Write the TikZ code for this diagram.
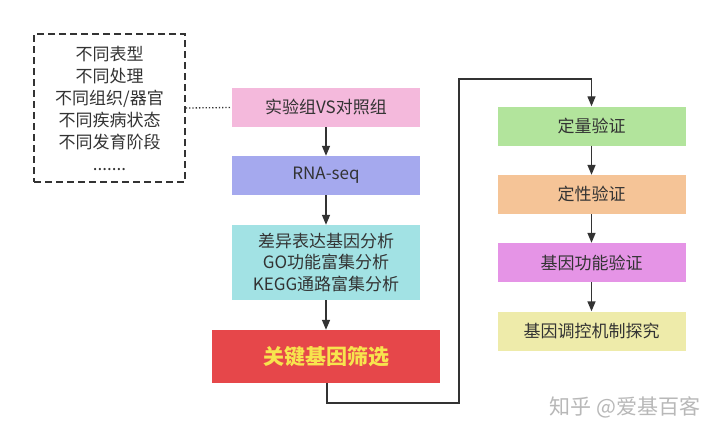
\documentclass[tikz,border=0pt]{standalone}
\usepackage{fontspec}
\setmainfont{Noto Sans CJK SC}
\usetikzlibrary{arrows.meta}
\definecolor{txt}{HTML}{333333}
\definecolor{cpink}{HTML}{F4B9DC}
\definecolor{cblue}{HTML}{A5A9EE}
\definecolor{ccyan}{HTML}{A2E2E4}
\definecolor{cred}{HTML}{E6474A}
\definecolor{cyel}{HTML}{F7E44E}
\definecolor{cgreen}{HTML}{B2E49C}
\definecolor{corange}{HTML}{F5C497}
\definecolor{cmag}{HTML}{E594E6}
\definecolor{clight}{HTML}{EEEBAA}
\begin{document}
\begin{tikzpicture}[x=1pt,y=-1pt,
  box/.style={draw=none,minimum width=188pt,minimum height=39pt,inner sep=0pt,
    font=\fontsize{17}{21.5}\selectfont,text=txt,align=center},
  flow/.style={-{Triangle[length=10pt,width=8pt]},line width=1.5pt,draw=txt},
  link/.style={line width=1.3pt,draw=txt}]
\useasboundingbox[fill=white] (0,0) rectangle (720,437);
% dashed box
\node[draw=txt,dashed,line width=1.6pt,dash pattern=on 7pt off 4pt,minimum width=151pt,minimum height=148pt,
  inner sep=0pt,align=center,font=\fontsize{17}{22}\selectfont,text=txt] (cond) at (109.5,108)
  {不同表型\\不同处理\\不同组织/器官\\不同疾病状态\\不同发育阶段\\.......};
% left column
\node[box,fill=cpink] (exp) at (326,107.5) {实验组VS对照组};
\node[box,fill=cblue] (rna) at (326,175.5) {RNA-seq};
\node[box,fill=ccyan,minimum height=75pt] (ana) at (326,262.5) {差异表达基因分析\\GO功能富集分析\\KEGG通路富集分析};
\node[box,fill=cred,minimum width=228pt,minimum height=53pt,text=cyel,
  font=\fontsize{21}{24}\selectfont\bfseries] (key) at (326,356.5) {关键基因筛选};
% right column
\node[box,fill=cgreen] (q1) at (591.5,126) {定量验证};
\node[box,fill=corange] (q2) at (591.5,194.5) {定性验证};
\node[box,fill=cmag] (q3) at (591.5,262.5) {基因功能验证};
\node[box,fill=clight] (q4) at (591.5,331) {基因调控机制探究};
% connectors
\draw[dotted,line width=1.3pt,draw=txt] (cond.east) -- (exp.west);
\draw[flow] (exp) -- (rna);
\draw[flow] (rna) -- (ana);
\draw[flow] (ana) -- (key);
\coordinate (c1) at (327,403);
\coordinate (c2) at (459,403);
\coordinate (c3) at (459,79);
\coordinate (c4) at (591.5,79);
\draw[flow,line width=1.3pt] (key.south -| c1) -- (c1) -- (c2) -- (c3) -- (c4) -- (q1.north);
\draw[flow] (q1) -- (q2);
\draw[flow] (q2) -- (q3);
\draw[flow] (q3) -- (q4);
% watermark
\node[text=black!28,font=\fontsize{21}{24}\selectfont,inner sep=0pt] (wm) at (625,407) {知乎 @爱基百客};
\end{tikzpicture}
\end{document}
